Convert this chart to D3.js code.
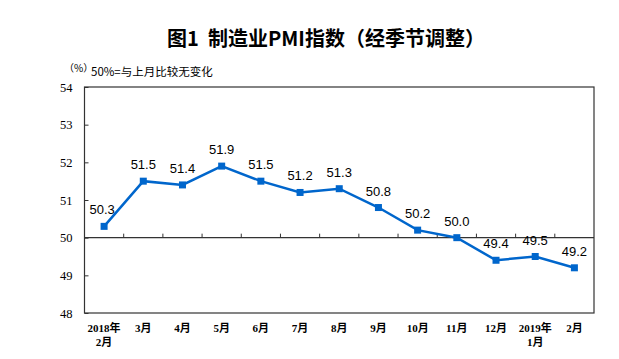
<!DOCTYPE html>
<html>
<head>
<meta charset="utf-8">
<script src="https://cdn.jsdelivr.net/npm/d3@7"></script>
<style>
  body { margin: 0; background: #fff; }
  svg { display: block; }
</style>
</head>
<body>
<div id="viz"></div>
<script>
// data
var months = ['2018年|2月', '3月', '4月', '5月', '6月', '7月', '8月', '9月', '10月', '11月', '12月', '2019年|1月', '2月'];
var pmi = [50.3, 51.5, 51.4, 51.9, 51.5, 51.2, 51.3, 50.8, 50.2, 50.0, 49.4, 49.5, 49.2];
var yTicks = [48, 49, 50, 51, 52, 53, 54];

var W = 619, H = 359;
var margin = { top: 87, right: 25, bottom: 46, left: 84.5 };
var width = W - margin.left - margin.right;
var height = H - margin.top - margin.bottom;

var svg = d3.select('#viz').append('svg')
    .attr('width', W)
    .attr('height', H);

var cjk = '"Noto Sans CJK SC", "Noto Sans", sans-serif';
var serif = '"Liberation Serif", "Times New Roman", "Noto Sans CJK SC", serif';

svg.append('text')
    .attr('x', 326)
    .attr('y', 46)
    .attr('text-anchor', 'middle')
    .style('font-family', cjk)
    .style('font-size', '20px')
    .style('font-weight', 'bold')
    .style('white-space', 'pre')
    .attr('fill', '#000')
    .text('图1\u00a0\u00a0制造业PMI指数（经季节调整）');

svg.append('text')
    .attr('x', 64)
    .attr('y', 72)
    .style('font-family', cjk)
    .style('font-size', '10px')
    .attr('fill', '#000')
    .text('（%）');

svg.append('text')
    .attr('x', 91)
    .attr('y', 76)
    .style('font-family', cjk)
    .style('font-size', '11.5px')
    .attr('fill', '#000')
    .text('50%=与上月比较无变化');

var g = svg.append('g')
    .attr('transform', 'translate(' + margin.left + ',' + margin.top + ')');

var x = d3.scaleBand().domain(months).range([0, width]);
var y = d3.scaleLinear().domain([48, 54]).range([height, 0]);

// frame
g.append('rect')
    .attr('x', 0).attr('y', 0)
    .attr('width', width).attr('height', height)
    .attr('fill', 'none')
    .attr('stroke', '#333')
    .attr('stroke-width', 1.2);

// y axis
var yAxis = g.append('g')
    .call(d3.axisLeft(y).tickValues(yTicks).tickFormat(d3.format('d')).tickSize(-4).tickPadding(12));
yAxis.select('.domain').remove();
yAxis.selectAll('line').attr('stroke', '#333');
yAxis.selectAll('text')
    .style('font-family', serif)
    .style('font-size', '12.5px')
    .attr('fill', '#000');

// x axis sits on the 50 line, ticks on band edges pointing up
var edges = months.slice(1).map(function(m) { return x(m); });
g.append('line')
    .attr('x1', 0).attr('x2', width)
    .attr('y1', y(50)).attr('y2', y(50))
    .attr('stroke', '#333')
    .attr('stroke-width', 1.2);
g.selectAll('.xtick')
    .data(edges)
    .enter().append('line')
    .attr('class', 'xtick')
    .attr('x1', function(d) { return d; })
    .attr('x2', function(d) { return d; })
    .attr('y1', y(50))
    .attr('y2', y(50) - 4)
    .attr('stroke', '#333');

var xl = g.selectAll('.xlab')
    .data(months)
    .enter().append('text')
    .attr('class', 'xlab')
    .attr('text-anchor', 'middle')
    .style('font-family', serif)
    .style('font-size', '11px')
    .style('font-weight', 'bold')
    .attr('fill', '#000');
xl.each(function(d) {
    var parts = d.split('|');
    var t = d3.select(this);
    parts.forEach(function(p, i) {
        t.append('tspan')
            .attr('x', x(d) + x.bandwidth() / 2)
            .attr('y', height + 19 + i * 13.5)
            .text(p);
    });
});

// line + markers
var pts = months.map(function(m, i) { return [x(m) + x.bandwidth() / 2, y(pmi[i])]; });

g.append('path')
    .attr('d', d3.line()(pts))
    .attr('fill', 'none')
    .attr('stroke', '#0066CC')
    .attr('stroke-width', 2.5);

g.selectAll('.mk')
    .data(pts)
    .enter().append('rect')
    .attr('class', 'mk')
    .attr('x', function(d) { return d[0] - 3.5; })
    .attr('y', function(d) { return d[1] - 3.5; })
    .attr('width', 7)
    .attr('height', 7)
    .attr('fill', '#0066CC');

g.selectAll('.vl')
    .data(pts)
    .enter().append('text')
    .attr('class', 'vl')
    .attr('x', function(d, i) { return d[0] + (i == 0 ? -2 : 0); })
    .attr('y', function(d) { return d[1] - 12; })
    .attr('text-anchor', 'middle')
    .style('font-family', '"Liberation Sans", Arial, sans-serif')
    .style('font-size', '13px')
    .attr('fill', '#000')
    .text(function(d, i) { return pmi[i].toFixed(1); });
</script>
</body>
</html>
